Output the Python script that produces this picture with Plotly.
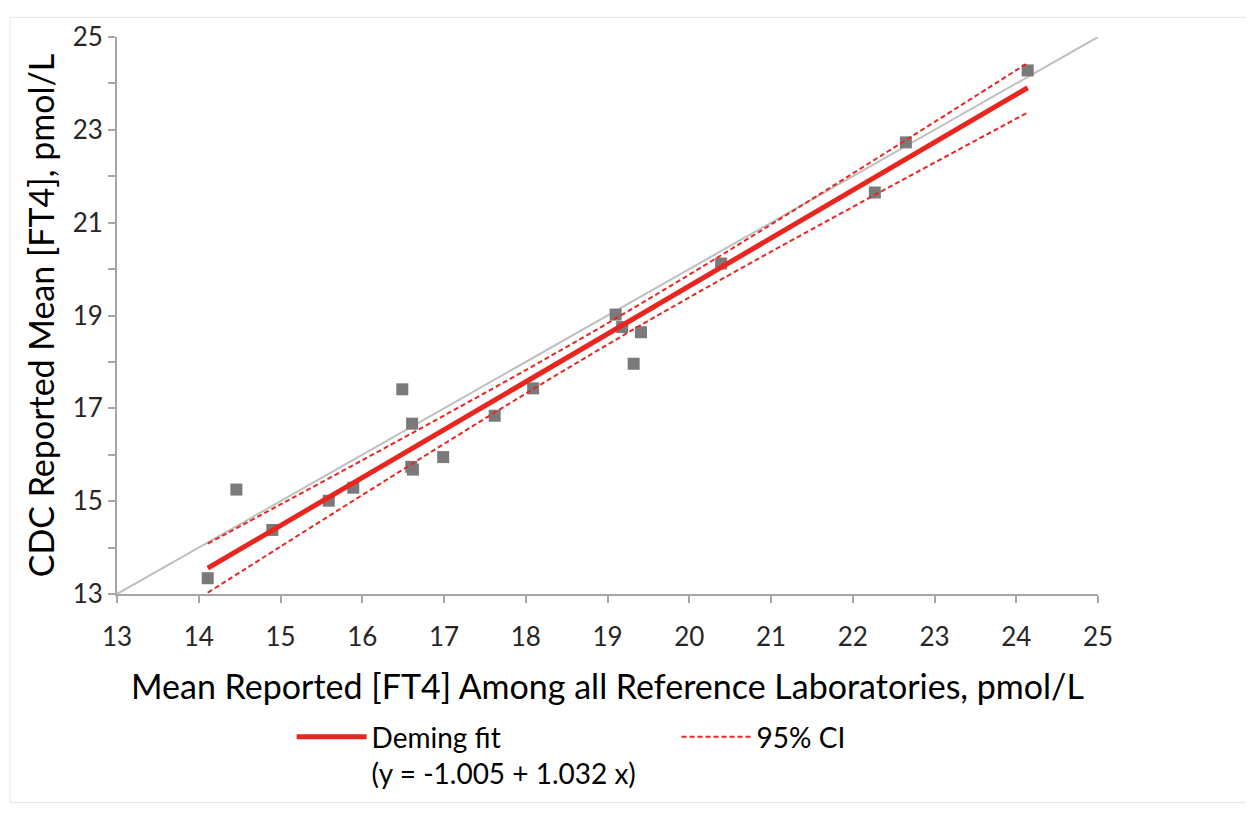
import plotly.graph_objects as go

# Data points
ref_x = [24.14, 22.65, 22.27, 20.39, 19.10, 19.18, 19.41, 19.32, 18.09, 17.62,
         16.49, 16.61, 16.60, 16.62, 16.99, 15.89, 15.59, 14.90, 14.46, 14.11]
cdc_y = [24.28, 22.73, 21.65, 20.12, 19.02, 18.75, 18.64, 17.96, 17.43, 16.84,
         17.41, 16.67, 15.74, 15.68, 15.95, 15.29, 15.01, 14.38, 15.25, 13.34]

# Identity line
ident_x = [13, 25]
ident_y = [13, 25]

# Deming fit
fit_x = [14.11, 24.14]
fit_y = [13.556, 23.907]

# 95% CI band
ci_x = [14.11, 15, 16, 17, 18, 19, 20, 21, 22, 23, 24.14]
ci_upper = [14.085, 14.929, 15.882, 16.844, 17.824, 18.833, 19.880, 20.960, 22.059, 23.169, 24.440]
ci_lower = [13.027, 14.021, 15.132, 16.234, 17.318, 18.373, 19.390, 20.374, 21.339, 22.293, 23.374]

x_ticks = list(range(13, 26))
y_ticks = list(range(13, 26, 2))

RED = "#e8261f"
FONT = "Lato"

fig = go.Figure()
fig.add_trace(go.Scatter(x=ident_x, y=ident_y, mode="lines",
                         line=dict(color="#bfbfbf", width=2), showlegend=False,
                         hoverinfo="skip"))
fig.add_trace(go.Scatter(x=ref_x, y=cdc_y, mode="markers",
                         marker=dict(symbol="square", size=12, color="#7a7a7a"),
                         showlegend=False))
fig.add_trace(go.Scatter(x=fit_x, y=fit_y, mode="lines",
                         line=dict(color=RED, width=5),
                         name="Deming fit<br>(y = -1.005 + 1.032 x)"))
fig.add_trace(go.Scatter(x=ci_x, y=ci_upper, mode="lines",
                         line=dict(color=RED, width=2, dash="5px,3px", shape="spline"),
                         name="95% CI", legendgroup="ci"))
fig.add_trace(go.Scatter(x=ci_x, y=ci_lower, mode="lines",
                         line=dict(color=RED, width=2, dash="5px,3px", shape="spline"),
                         name="95% CI", legendgroup="ci", showlegend=False))

axis_common = dict(showgrid=False, zeroline=False, showline=True,
                   linecolor="#a6a6a6", linewidth=2, ticks="outside",
                   tickcolor="#a6a6a6", ticklen=7, tickwidth=1.5,
                   tickfont=dict(family=FONT, size=26, color="#262626"))

fig.update_xaxes(range=[13, 25], tickvals=x_ticks, ticklabelstandoff=12,
                 title=dict(text="Mean Reported [FT4] Among all Reference Laboratories, pmol/L",
                            font=dict(family=FONT, size=34, color="#000000"), standoff=24),
                 **axis_common)
fig.update_yaxes(range=[13, 25], tickvals=y_ticks,
                 minor=dict(dtick=1, tick0=13, ticks="outside", ticklen=7,
                            tickcolor="#a6a6a6", tickwidth=1.5),
                 title=dict(text="CDC Reported Mean [FT4], pmol/L",
                            font=dict(family=FONT, size=34, color="#000000"), standoff=8),
                 **axis_common)

fig.update_layout(
    width=1254, height=816,
    margin=dict(l=109, r=164, t=20, b=230),
    plot_bgcolor="white", paper_bgcolor="white",
    font=dict(family=FONT),
    legend=dict(orientation="h", x=0.178, xanchor="left", y=-0.212, yanchor="top",
                entrywidth=300, entrywidthmode="pixels", itemwidth=70,
                valign="top", font=dict(family=FONT, size=28, color="#000000"),
                bgcolor="rgba(0,0,0,0)"),
    shapes=[dict(type="rect", xref="paper", yref="paper",
                 x0=-107/981, x1=1149/981, y0=-212/566, y1=1 + 20/566,
                 line=dict(color="#e6e6e6", width=1), layer="below")],
)

fig.write_html("out.html")
